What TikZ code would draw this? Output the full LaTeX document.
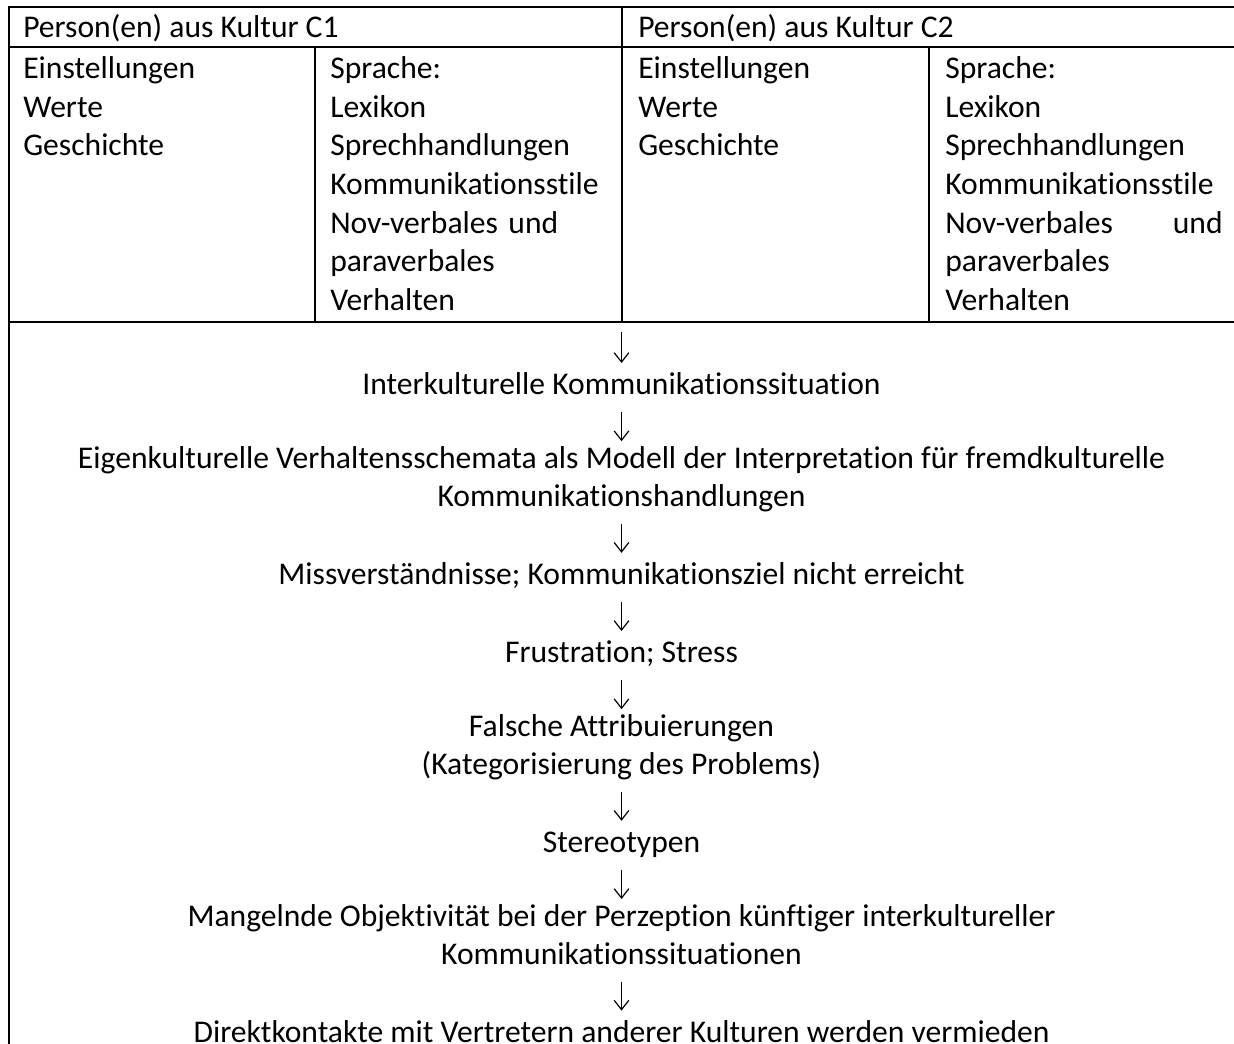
\documentclass[tikz,border=0pt]{standalone}
\usepackage{fontspec}
\setmainfont{Carlito}[Ligatures=NoCommon]
\usetikzlibrary{arrows.meta,positioning}
\definecolor{textdark}{HTML}{000000}
\newcommand{\cellfont}{\fontsize{23.7pt}{29pt}\selectfont}
\newcommand{\flowfont}{\fontsize{23.7pt}{28.65pt}\selectfont}
\tikzset{
  rule/.style={line width=1.5pt, draw=textdark, line cap=rect},
  head/.style={anchor=base west, inner sep=0pt, font=\cellfont, text=textdark},
  cell/.style={
    anchor=north west, inner sep=0pt, align=left, font=\cellfont,
    text=textdark, text width=208pt, execute at begin node=\strut
  },
  flowtext/.style={
    inner sep=0pt, align=center, font=\flowfont, text=textdark,
    execute at begin node=\strut, execute at end node=\strut
  },
  flowarrow/.style={-{Straight Barb[length=7pt,width=11pt]}, line width=0.9pt,
    draw=textdark, shorten <=4.2pt, shorten >=3.6pt}
}

\begin{document}
\begin{tikzpicture}[x=0.75pt,y=-0.75pt,node distance=29.6pt]
\useasboundingbox (0,0) rectangle (1234,1043);
% table grid
\draw[rule] (9,7) -- (1234,7);
\draw[rule] (9,46.5) -- (1234,46.5);
\draw[rule] (9,322) -- (1234,322);
\draw[rule] (9,7) -- (9,1043);
\draw[rule] (622,7) -- (622,322);
\draw[rule] (315,46.5) -- (315,322);
\draw[rule] (929,46.5) -- (929,322);
% header cells
\node[head] (c1) at (23,37.5) {Person(en) aus Kultur C1};
\node[head] (c2) at (638,37.5) {Person(en) aus Kultur C2};
\node[cell] (c1werte) at (23,51) {Einstellungen\\Werte\\Geschichte};
\node[cell] (c1sprache) at (330,51) {Sprache:\\Lexikon\\Sprechhandlungen\\Kommunikationsstile\\Nov-verbales und\\paraverbales\\Verhalten};
\node[cell] (c2werte) at (638,51) {Einstellungen\\Werte\\Geschichte};
\node[cell] (c2sprache) at (945,51) {Sprache:\\Lexikon\\Sprechhandlungen\\Kommunikationsstile\\Nov-verbales \hfill und\\paraverbales\\Verhalten};
% flow
\coordinate (split) at (621.5,322);
\node[flowtext, anchor=north] (situation) at (621.5,367.8) {Interkulturelle Kommunikationssituation};
\node[flowtext, below=of situation] (schema) {Eigenkulturelle Verhaltensschemata als Modell der Interpretation für fremdkulturelle\\Kommunikationshandlungen};
\node[flowtext, below=of schema] (miss) {Missverständnisse; Kommunikationsziel nicht erreicht};
\node[flowtext, below=of miss] (frust) {Frustration; Stress};
\node[flowtext, below=of frust] (attrib) {Falsche Attribuierungen\\(Kategorisierung des Problems)};
\node[flowtext, below=of attrib] (stereo) {Stereotypen};
\node[flowtext, below=of stereo] (percep) {Mangelnde Objektivität bei der Perzeption künftiger interkultureller\\Kommunikationssituationen};
\node[flowtext, below=of percep] (avoid) {Direktkontakte mit Vertretern anderer Kulturen werden vermieden};
\draw[flowarrow, shorten <=7.5pt] (split) -- (situation.north);
\draw[flowarrow] (situation.south) -- (schema.north);
\draw[flowarrow] (schema.south) -- (miss.north);
\draw[flowarrow] (miss.south) -- (frust.north);
\draw[flowarrow] (frust.south) -- (attrib.north);
\draw[flowarrow] (attrib.south) -- (stereo.north);
\draw[flowarrow] (stereo.south) -- (percep.north);
\draw[flowarrow] (percep.south) -- (avoid.north);
\end{tikzpicture}
\end{document}
